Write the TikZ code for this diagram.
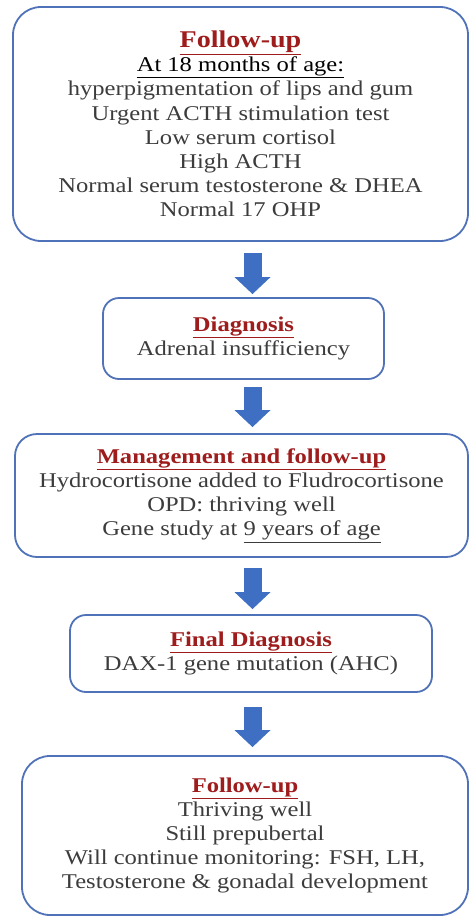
\documentclass[tikz,border=0pt]{standalone}
\usepackage{fontspec}
\setmainfont[FakeStretch=1.17]{Liberation Serif}
\usetikzlibrary{arrows.meta}

\definecolor{boxblue}{HTML}{4F72B8}
\definecolor{arrowblue}{HTML}{3F6FC2}
\definecolor{headred}{HTML}{9E1C1C}
\definecolor{bodygray}{HTML}{3C3C3C}

\newcommand{\bigtitle}[1]{{\fontsize{24}{25}\selectfont\bfseries\color{headred}\underline{#1}}}
\newcommand{\boxtitle}[1]{{\bfseries\color{headred}\underline{#1}}}

\begin{document}
\begin{tikzpicture}[x=1pt, y=-1pt,
    stagebox/.style = {draw = boxblue, line width = 1.8pt, fill = white,
        align = center, inner sep = 0pt, text = bodygray,
        font = \fontsize{21}{24.2}\selectfont},
    blockarrow/.style = {draw = arrowblue, line width = 18pt,
        -{Triangle[width = 35pt, length = 17pt, fill = arrowblue]}}]
					\useasboundingbox (0, 0) rectangle (469, 916);

					\coordinate (ar) at (252.5, 0);

					\node [stagebox, rounded corners = 28pt, minimum width = 455pt, minimum height = 234pt] (fu1) at (240.5, 124)
						{\bigtitle{Follow-up}\\
						{\color{black}\underline{At 18 months of age:}}\\
						hyperpigmentation of lips and gum\\
						Urgent ACTH stimulation test\\
						Low serum cortisol\\
						High ACTH\\
						Normal serum testosterone \& DHEA\\
						Normal 17 OHP};

					\node [stagebox, rounded corners = 16pt, minimum width = 281pt, minimum height = 81pt] (dx) at (243.5, 338.5)
						{\boxtitle{Diagnosis}\\
						Adrenal insufficiency};

					\node [stagebox, rounded corners = 22pt, minimum width = 453pt, minimum height = 123pt] (mgmt) at (241.5, 495.5)
						{\boxtitle{Management and follow-up}\\
						Hydrocortisone added to Fludrocortisone\\
						OPD: thriving well\\
						Gene study at \underline{9 years of age}};

					\node [stagebox, rounded corners = 16pt, minimum width = 362pt, minimum height = 77pt] (fdx) at (251, 653.5)
						{\boxtitle{Final Diagnosis}\\
						DAX-1 gene mutation (AHC)};

					\node [stagebox, rounded corners = 28pt, minimum width = 446pt, minimum height = 159pt] (fu2) at (245, 835.5)
						{\boxtitle{Follow-up}\\
						Thriving well\\
						Still prepubertal\\
						Will continue monitoring: FSH, LH,\\
						Testosterone \& gonadal development};

					\draw [blockarrow, shorten < = 11pt, shorten > = 3pt] (fu1.south -| ar) -- (dx.north -| ar);
					\draw [blockarrow, shorten < = 7pt, shorten > = 6pt] (dx.south -| ar) -- (mgmt.north -| ar);
					\draw [blockarrow, shorten < = 10pt, shorten > = 5pt] (mgmt.south -| ar) -- (fdx.north -| ar);
					\draw [blockarrow, shorten < = 14pt, shorten > = 8pt] (fdx.south -| ar) -- (fu2.north -| ar);
				\end{tikzpicture}
\end{document}
